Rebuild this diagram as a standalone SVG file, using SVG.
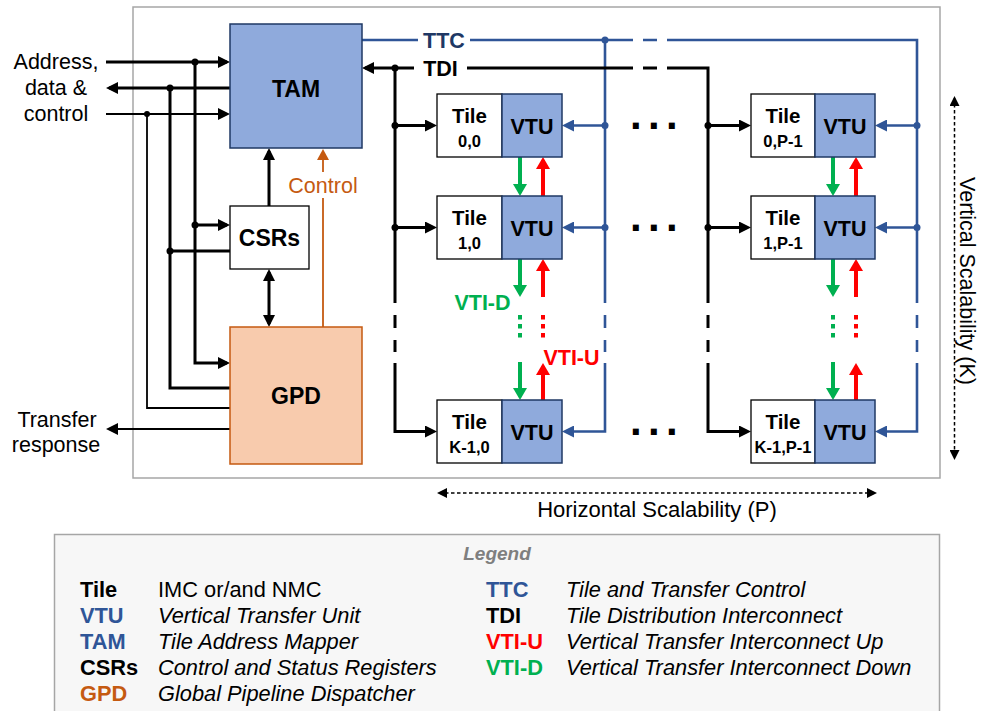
<svg xmlns="http://www.w3.org/2000/svg" width="981" height="711" viewBox="0 0 981 711">
<defs>
<style>
text{font-family:"Liberation Sans",Arial,sans-serif}
.b{font-weight:bold}
.i{font-style:italic}
.m{text-anchor:middle}
.k3{stroke:#000;stroke-width:3;fill:none}
.k2{stroke:#000;stroke-width:1.8;fill:none}
.b3{stroke:#2F5597;stroke-width:2.6;fill:none}
.g4{stroke:#00B050;stroke-width:4;fill:none}
.r4{stroke:#FF0000;stroke-width:4;fill:none}
.gd{stroke:#00B050;stroke-width:4;fill:none;stroke-dasharray:4.5 4.5}
.rd{stroke:#FF0000;stroke-width:4;fill:none;stroke-dasharray:4.5 4.5}
.o2{stroke:#C55A11;stroke-width:1.8;fill:none}
.sc{stroke:#000;stroke-width:1.5;fill:none;stroke-dasharray:3.5 2.5}
.tile{fill:#fff;stroke:#000;stroke-width:1.3}
.vtu{fill:#8FAADC;stroke:#1F3864;stroke-width:1.5}
.dk{fill:#000}
.db{fill:#2F5597}
.ttl{font-size:20.5px;font-weight:bold}
.tid{font-size:16.5px;font-weight:bold}
.vt{font-size:21.5px;font-weight:bold}
.lg{font-size:21.5px}
.lgd{font-size:21.8px}
.el{font-size:42px;font-weight:bold;letter-spacing:6.3px}
</style>
<marker id="ak" viewBox="0 0 12 12" refX="9" refY="6" markerWidth="12" markerHeight="12" markerUnits="userSpaceOnUse" orient="auto-start-reverse"><path d="M0,0 L12,6 L0,12 z" fill="#000"/></marker>
<marker id="ab" viewBox="0 0 12 12" refX="9" refY="6" markerWidth="12" markerHeight="12" markerUnits="userSpaceOnUse" orient="auto-start-reverse"><path d="M0,0 L12,6 L0,12 z" fill="#2F5597"/></marker>
<marker id="ag" viewBox="0 0 12 14" refX="8.5" refY="7" markerWidth="12" markerHeight="14" markerUnits="userSpaceOnUse" orient="auto-start-reverse"><path d="M0,0 L12,7 L0,14 z" fill="#00B050"/></marker>
<marker id="ar" viewBox="0 0 12 14" refX="8.5" refY="7" markerWidth="12" markerHeight="14" markerUnits="userSpaceOnUse" orient="auto-start-reverse"><path d="M0,0 L12,7 L0,14 z" fill="#FF0000"/></marker>
<marker id="ao" viewBox="0 0 11 12" refX="9" refY="6" markerWidth="11" markerHeight="12" markerUnits="userSpaceOnUse" orient="auto-start-reverse"><path d="M0,0 L11,6 L0,12 z" fill="#C55A11"/></marker>
<marker id="as" viewBox="0 0 10 10" refX="8" refY="5" markerWidth="10" markerHeight="10" markerUnits="userSpaceOnUse" orient="auto-start-reverse"><path d="M0,0 L10,5 L0,10 z" fill="#000"/></marker>
</defs>

<rect x="0" y="0" width="981" height="711" fill="#fff"/>

<!-- main frame -->
<rect id="frame" x="133" y="7" width="807" height="471" fill="none" stroke="#A6A6A6" stroke-width="1.5"/>

<!-- external labels -->
<g id="io-labels" class="lg">
<text x="56" y="69" class="m">Address,</text>
<text x="56" y="95" class="m">data &amp;</text>
<text x="56" y="121" class="m">control</text>
<text x="57" y="427" class="m">Transfer</text>
<text x="56" y="452" class="m">response</text>
</g>

<!-- connectors -->
<g id="connectors">
<!-- left side -->
<path class="k3" d="M106,62 H227" marker-end="url(#ak)"/>
<path class="k3" d="M230,88 H109" marker-end="url(#ak)"/>
<path class="k2" d="M106,114 H227" marker-end="url(#ak)"/>
<path class="k3" d="M195,62 V363 H227" marker-end="url(#ak)"/>
<path class="k3" d="M195,225 H227" marker-end="url(#ak)"/>
<path class="k3" d="M170,88 V388 H230"/>
<path class="k3" d="M170,251 H230"/>
<path class="k2" d="M147,114 V408 H230"/>
<path class="k2" d="M230,429 H109" marker-end="url(#ak)"/>
<path class="k3" d="M269,206 V151" marker-end="url(#ak)"/>
<path class="k3" d="M269,272 V324" marker-start="url(#ak)" marker-end="url(#ak)"/>
<path class="o2" d="M323,327 V198"/>
<path class="o2" d="M323,172 V151" marker-end="url(#ao)"/>
<text x="323" y="193" class="lg m" fill="#C55A11">Control</text>
<g class="dk">
<circle cx="195" cy="62" r="3.5"/>
<circle cx="170" cy="88" r="3.5"/>
<circle cx="147" cy="114" r="3"/>
<circle cx="195" cy="225" r="3.5"/>
<circle cx="170" cy="251" r="3.5"/>
</g>

<!-- TTC bus -->
<path class="b3" d="M362,40 H418"/>
<text x="444" y="48" class="vt m" fill="#203864">TTC</text>
<path class="b3" d="M470,40 H633 M643,40 H657"/>
<path class="b3" d="M667,40 H917 V303 M917,315 V328 M917,340 V352 M917,363 V431.5 H878" marker-end="url(#ab)"/>
<path class="b3" d="M605,40 V303 M605,315 V328 M605,340 V352 M605,363 V431.5 H565" marker-end="url(#ab)"/>
<path class="b3" d="M605,125.5 H565" marker-end="url(#ab)"/>
<path class="b3" d="M605,227.5 H565" marker-end="url(#ab)"/>
<path class="b3" d="M917,125.5 H878" marker-end="url(#ab)"/>
<path class="b3" d="M917,227.5 H878" marker-end="url(#ab)"/>
<g class="db">
<circle cx="605" cy="40" r="3.5"/>
<circle cx="605" cy="125.5" r="3.5"/>
<circle cx="605" cy="227.5" r="3.5"/>
<circle cx="917" cy="125.5" r="3.5"/>
<circle cx="917" cy="227.5" r="3.5"/>
</g>

<!-- TDI bus -->
<path class="k3" d="M414,68 H365" marker-end="url(#ak)"/>
<text x="440.5" y="76" class="vt m">TDI</text>
<path class="k3" d="M467,68 H633 M643,68 H657"/>
<path class="k3" d="M667,68 H708 V303 M708,315 V328 M708,340 V352 M708,363 V431.5 H748" marker-end="url(#ak)"/>
<path class="k3" d="M395,68 V303 M395,315 V328 M395,340 V352 M395,363 V431.5 H434" marker-end="url(#ak)"/>
<path class="k3" d="M395,125.5 H434" marker-end="url(#ak)"/>
<path class="k3" d="M395,227.5 H434" marker-end="url(#ak)"/>
<path class="k3" d="M708,125.5 H748" marker-end="url(#ak)"/>
<path class="k3" d="M708,227.5 H748" marker-end="url(#ak)"/>
<g class="dk">
<circle cx="395" cy="68" r="3.5"/>
<circle cx="395" cy="125.5" r="3.5"/>
<circle cx="395" cy="227.5" r="3.5"/>
<circle cx="708" cy="125.5" r="3.5"/>
<circle cx="708" cy="227.5" r="3.5"/>
</g>

<!-- VTI column 0 -->
<path class="g4" d="M520,157 V192.5" marker-end="url(#ag)"/>
<path class="r4" d="M543,196 V160.5" marker-end="url(#ar)"/>
<path class="g4" d="M520,259 V293.5" marker-end="url(#ag)"/>
<path class="r4" d="M543,297 V262.5" marker-end="url(#ar)"/>
<path class="gd" d="M520,315 V342"/>
<path class="rd" d="M543,315 V342"/>
<path class="g4" d="M520,362 V396.5" marker-end="url(#ag)"/>
<path class="r4" d="M543,400 V366.5" marker-end="url(#ar)"/>
<!-- VTI column P-1 -->
<path class="g4" d="M833,157 V192.5" marker-end="url(#ag)"/>
<path class="r4" d="M856,196 V160.5" marker-end="url(#ar)"/>
<path class="g4" d="M833,259 V293.5" marker-end="url(#ag)"/>
<path class="r4" d="M856,297 V262.5" marker-end="url(#ar)"/>
<path class="gd" d="M833,315 V342"/>
<path class="rd" d="M856,315 V342"/>
<path class="g4" d="M833,362 V396.5" marker-end="url(#ag)"/>
<path class="r4" d="M856,400 V366.5" marker-end="url(#ar)"/>
<text x="482.5" y="310" class="vt m" fill="#00B050">VTI-D</text>
<text x="571.5" y="365" class="vt m" fill="#FF0000">VTI-U</text>

<!-- ellipses -->
<text x="630" y="128.5" class="el">...</text>
<text x="630" y="230.5" class="el">...</text>
<text x="630" y="434.5" class="el">...</text>

<!-- scalability -->
<path class="sc" d="M954.5,98 V458" marker-start="url(#as)" marker-end="url(#as)"/>
<path class="sc" d="M439,493 H875" marker-start="url(#as)" marker-end="url(#as)"/>
</g>

<text x="657" y="517" class="m" font-size="22">Horizontal Scalability (P)</text>
<text transform="translate(960,281) rotate(90)" class="m" font-size="21.5">Vertical Scalability (K)</text>

<!-- nodes -->
<g id="TAM">
<rect x="230" y="24" width="132" height="124" fill="#8FAADC" stroke="#1F3864" stroke-width="1.5"/>
<text x="296" y="97" class="m b" font-size="23">TAM</text>
</g>
<g id="CSRs">
<rect x="230" y="206" width="79" height="63" fill="#fff" stroke="#000" stroke-width="1.3"/>
<text x="269.5" y="246" class="m b" font-size="23">CSRs</text>
</g>
<g id="GPD">
<rect x="230" y="327" width="132" height="137" fill="#F8CBAD" stroke="#C55A11" stroke-width="1.5"/>
<text x="296" y="404" class="m b" font-size="23">GPD</text>
</g>

<g id="tile-0-0">
<rect class="tile" x="437" y="94" width="65" height="63"/>
<rect class="vtu" x="502" y="94" width="60" height="63"/>
<text x="469.5" y="123" class="m ttl">Tile</text>
<text x="469.5" y="147" class="m tid">0,0</text>
<text x="532" y="134" class="m vt">VTU</text>
</g>
<g id="tile-1-0">
<rect class="tile" x="437" y="196" width="65" height="63"/>
<rect class="vtu" x="502" y="196" width="60" height="63"/>
<text x="469.5" y="225" class="m ttl">Tile</text>
<text x="469.5" y="249" class="m tid">1,0</text>
<text x="532" y="236" class="m vt">VTU</text>
</g>
<g id="tile-K1-0">
<rect class="tile" x="437" y="400" width="65" height="63"/>
<rect class="vtu" x="502" y="400" width="60" height="63"/>
<text x="469.5" y="429" class="m ttl">Tile</text>
<text x="469.5" y="453" class="m tid">K-1,0</text>
<text x="532" y="440" class="m vt">VTU</text>
</g>
<g id="tile-0-P1">
<rect class="tile" x="751" y="94" width="64" height="63"/>
<rect class="vtu" x="815" y="94" width="60" height="63"/>
<text x="783" y="123" class="m ttl">Tile</text>
<text x="783" y="147" class="m tid">0,P-1</text>
<text x="845" y="134" class="m vt">VTU</text>
</g>
<g id="tile-1-P1">
<rect class="tile" x="751" y="196" width="64" height="63"/>
<rect class="vtu" x="815" y="196" width="60" height="63"/>
<text x="783" y="225" class="m ttl">Tile</text>
<text x="783" y="249" class="m tid">1,P-1</text>
<text x="845" y="236" class="m vt">VTU</text>
</g>
<g id="tile-K1-P1">
<rect class="tile" x="751" y="400" width="64" height="63"/>
<rect class="vtu" x="815" y="400" width="60" height="63"/>
<text x="783" y="429" class="m ttl">Tile</text>
<text x="783" y="453" class="m tid">K-1,P-1</text>
<text x="845" y="440" class="m vt">VTU</text>
</g>

<!-- legend -->
<g id="legend">
<rect x="54.5" y="534.5" width="885" height="190" fill="#F7F7F7" stroke="#A6A6A6" stroke-width="1.5"/>
<text x="497" y="560" class="m b i" font-size="19" fill="#7F7F7F">Legend</text>
<g class="lgd">
<text x="80" y="597" class="b">Tile</text>
<text x="158" y="597">IMC or/and NMC</text>
<text x="80" y="623" class="b" fill="#2F5597">VTU</text>
<text x="158" y="623" class="i">Vertical Transfer Unit</text>
<text x="80" y="649" class="b" fill="#2F5597">TAM</text>
<text x="158" y="649" class="i">Tile Address Mapper</text>
<text x="80" y="675" class="b">CSRs</text>
<text x="158" y="675" class="i">Control and Status Registers</text>
<text x="80" y="701" class="b" fill="#C55A11">GPD</text>
<text x="158" y="701" class="i">Global Pipeline Dispatcher</text>
<text x="486" y="597" class="b" fill="#2F5597">TTC</text>
<text x="566" y="597" class="i">Tile and Transfer Control</text>
<text x="486" y="623" class="b">TDI</text>
<text x="566" y="623" class="i">Tile Distribution Interconnect</text>
<text x="486" y="649" class="b" fill="#FF0000">VTI-U</text>
<text x="566" y="649" class="i">Vertical Transfer Interconnect Up</text>
<text x="486" y="675" class="b" fill="#00B050">VTI-D</text>
<text x="566" y="675" class="i">Vertical Transfer Interconnect Down</text>
</g>
</g>
</svg>
